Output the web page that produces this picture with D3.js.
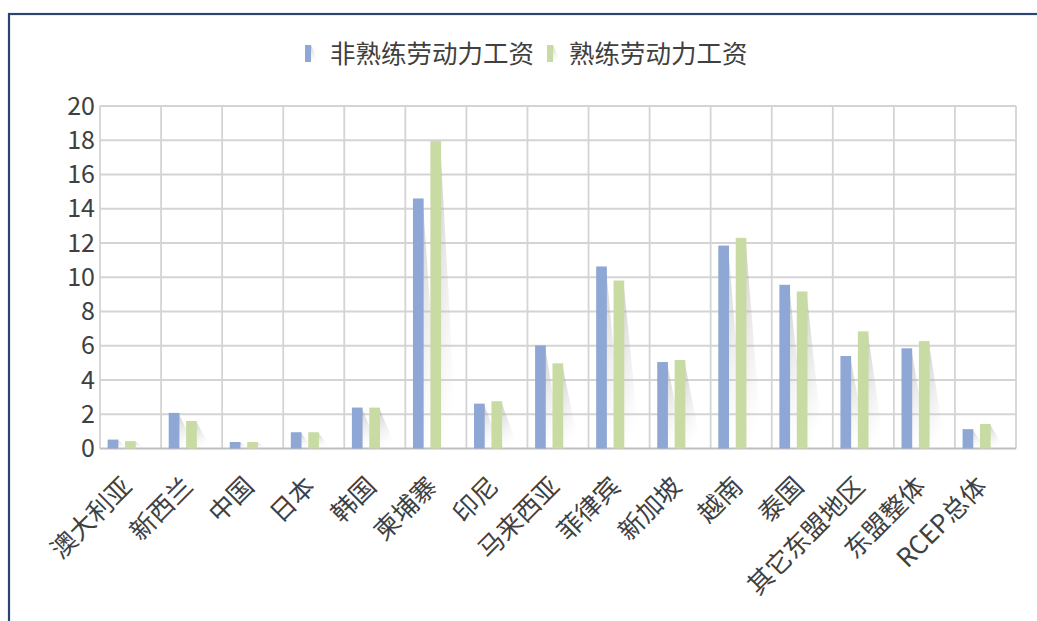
<!DOCTYPE html>
<html><head><meta charset="utf-8">
<script src="https://cdn.jsdelivr.net/npm/d3@7"></script>
<style>
html,body{margin:0;padding:0;background:#fff;}
svg{display:block;}
text{font-family:"Microsoft YaHei","Noto Sans CJK SC","Noto Sans",sans-serif;}
</style></head>
<body>
<svg id="chart" width="1037" height="621"></svg>
<script>
const categories = ["澳大利亚","新西兰","中国","日本","韩国","柬埔寨","印尼","马来西亚","菲律宾","新加坡","越南","泰国","其它东盟地区","东盟整体","RCEP总体"];
const unskilled = [0.52,2.08,0.38,0.95,2.39,14.6,2.62,6.02,10.63,5.05,11.85,9.56,5.4,5.85,1.13];
const skilled   = [0.43,1.61,0.38,0.95,2.39,17.95,2.76,4.97,9.81,5.17,12.3,9.17,6.84,6.27,1.43];
const seriesNames = ["非熟练劳动力工资","熟练劳动力工资"];
const yTicks = [0,2,4,6,8,10,12,14,16,18,20];
const colors = ["#8EA7D5","#C8DBA3"];

(function(){
const svg = d3.select("#chart");
// frame
svg.append("rect").attr("x",9).attr("y",14).attr("width",1040).attr("height",620)
  .attr("fill","#fff").attr("stroke","#2C4470").attr("stroke-width",2.2);

const pLeft=100,pRight=1016,pTop=106,pBottom=448.5;
const x = d3.scaleBand().domain(categories).range([pLeft,pRight]).padding(0);
const y = d3.scaleLinear().domain([0,20]).range([pBottom,pTop]);
const bw = x.bandwidth();

const defs = svg.append("defs");
const grad = defs.append("linearGradient").attr("id","shadow").attr("x1",0).attr("y1",0).attr("x2",0.3).attr("y2",1);
grad.append("stop").attr("offset","0%").attr("stop-color","#9a9a9a").attr("stop-opacity",0.5);
grad.append("stop").attr("offset","100%").attr("stop-color","#d0d0d0").attr("stop-opacity",0.0);

// grid
const g = svg.append("g");
g.selectAll("line.h").data(yTicks.slice(1)).enter().append("line")
  .attr("x1",pLeft).attr("x2",pRight).attr("y1",d=>y(d)).attr("y2",d=>y(d))
  .attr("stroke","#d4d4d4").attr("stroke-width",1.8);
const bounds = categories.map(c=>x(c)).concat([pRight]);
g.selectAll("line.v").data(bounds).enter().append("line")
  .attr("x1",d=>d).attr("x2",d=>d).attr("y1",pTop).attr("y2",pBottom)
  .attr("stroke","#d4d4d4").attr("stroke-width",1.8);
g.append("line").attr("x1",pLeft).attr("x2",pRight).attr("y1",pBottom).attr("y2",pBottom)
  .attr("stroke","#bfbfbf").attr("stroke-width",2);

// y tick labels
svg.append("g").selectAll("text").data(yTicks).enter().append("text")
  .attr("x",95).attr("y",d=>y(d)+8.5).attr("text-anchor","end")
  .attr("font-size",25).attr("fill","#404040").text(d=>d);

// bars
const series = [unskilled, skilled];
const offs = [[0.125,0.30],[0.41,0.585]];
series.forEach((vals,si)=>{
  const sg = svg.append("g");
  sg.selectAll("polygon").data(vals).enter().append("polygon")
    .attr("points",(d,i)=>{
      const xr = x(categories[i]) + offs[si][1]*bw;
      const yt = y(d);
      const ext = Math.min(16, 6 + (pBottom-yt)*0.3);
      return [[xr-1,yt],[xr+ext,pBottom-1],[xr-1,pBottom-1]].map(p=>p.join(",")).join(" ");
    })
    .attr("fill","url(#shadow)");
  sg.selectAll("rect").data(vals).enter().append("rect")
    .attr("x",(d,i)=>x(categories[i]) + offs[si][0]*bw)
    .attr("width",(offs[si][1]-offs[si][0])*bw)
    .attr("y",d=>y(d)).attr("height",d=>pBottom-y(d))
    .attr("fill",colors[si]);
});

// x labels
svg.append("g").selectAll("text").data(categories).enter().append("text")
  .attr("transform",d=>`translate(${x(d)+bw/2+3},${488}) rotate(-45)`)
  .attr("text-anchor","end").attr("font-size",25.5).attr("fill","#404040").text(d=>d);

// legend
const leg = [{x:305,tx:330},{x:547,tx:569}];
seriesNames.forEach((n,i)=>{
  svg.append("polygon").attr("points",`${leg[i].x+6},45 ${leg[i].x+12},58 ${leg[i].x+6},62`).attr("fill","url(#shadow)");
  svg.append("rect").attr("x",leg[i].x).attr("y",45).attr("width",6).attr("height",17).attr("fill",colors[i]);
  svg.append("text").attr("x",leg[i].tx).attr("y",63).attr("font-size",25.5).attr("fill","#404040").text(n);
});
})();
</script>
</body></html>
